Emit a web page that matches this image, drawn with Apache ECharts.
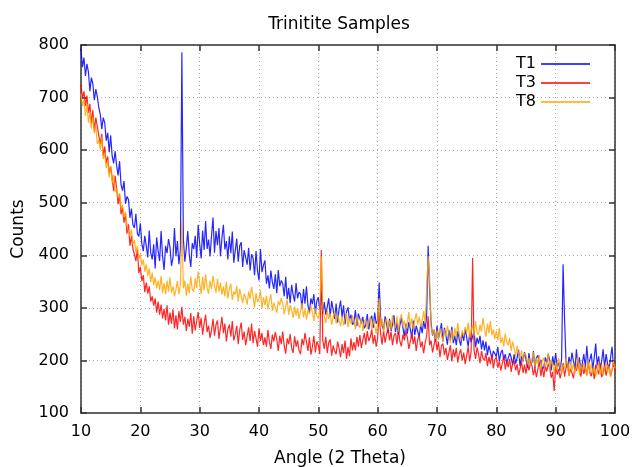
<!DOCTYPE html>
<html><head><meta charset="utf-8">
<script src="https://cdn.jsdelivr.net/npm/echarts@6/dist/echarts.min.js"></script>
<style>html,body{margin:0;padding:0;background:#fff}#c{width:634px;height:467px}</style>
</head><body><div id="c"></div>
<script>
const titleText = 'Trinitite Samples';
const seriesNames = ['T1', 'T3', 'T8'];
const angleStart = 10, angleStep = 0.25;
const xTicks = [10, 20, 30, 40, 50, 60, 70, 80, 90, 100];
const yTicks = [100, 200, 300, 400, 500, 600, 700, 800];

const T1 = [
792,758,776,741, 764,749,712,738, 726,695,716,702, 681,668,640,662, 652,618,633,596,
628,589,575,598, 571,552,579,534, 523,541,498,512, 506,471,489,458, 452,479,441,436,
461,422,408,437, 418,396,447,405, 392,421,375,434, 408,389,446,398, 372,418,404,431,
415,380,395,452, 398,427,383,410, 786,432,388,414, 446,401,378,423, 412,437,395,458,
422,394,447,410, 465,412,430,398, 437,472,405,446, 419,452,398,433, 458,411,427,392,
436,404,445,386, 409,432,388,418, 425,378,410,396, 382,414,371,402, 395,362,408,370,
352,412,368,381, 390,346,362,337, 371,349,336,364, 328,372,341,352, 346,322,359,317,
338,309,344,325, 312,347,318,330, 326,299,336,308, 341,304,292,318, 307,326,289,314,
320,296,332,288, 311,287,302,318, 284,313,296,279, 308,272,298,314, 282,305,269,293,
301,276,287,268, 272,296,265,289, 292,270,283,261, 267,288,259,278, 285,262,291,270,
276,348,281,266, 259,284,270,252, 279,256,268,286, 254,272,249,267, 281,262,246,270,
251,273,260,242, 276,248,266,255, 244,268,252,275, 260,283,418,336, 271,247,258,236,
266,242,255,271, 236,262,248,230, 258,239,264,233, 247,229,256,240, 228,252,237,259,
244,226,251,235, 238,256,225,243, 232,247,221,238, 219,236,210,228, 225,204,218,213,
207,226,199,214, 220,201,212,195, 198,214,206,191, 212,194,205,220, 189,208,198,216,
203,186,214,192, 196,218,185,205, 210,190,201,183, 187,206,195,212, 200,181,208,190,
214,188,196,180, 203,383,279,195, 186,207,192,215, 198,183,221,190, 206,179,196,212,
185,228,192,201, 213,184,205,232, 190,208,181,199, 221,187,212,194, 183,205,226,188,
197
];

const T3 = [
725,698,712,684, 704,671,688,650, 676,636,662,645, 628,612,631,589, 607,575,588,556,
569,548,522,551, 528,497,516,478, 491,462,479,441, 459,418,437,412, 402,389,411,366,
378,351,362,330, 348,327,341,312, 322,304,318,291, 312,287,306,280, 298,276,305,268,
291,270,297,261, 286,259,294,273, 302,268,283,256, 279,264,290,251, 284,257,275,292,
262,281,249,270, 287,254,266,243, 258,279,247,268, 276,241,262,283, 252,270,236,259,
268,245,275,238, 249,266,231,258, 272,239,255,229, 246,263,237,270, 233,256,242,226,
261,237,252,229, 244,226,258,235, 222,249,236,254, 240,218,247,231, 255,228,213,242,
231,250,224,214, 246,226,238,219, 212,241,229,252, 235,218,244,211, 226,247,215,236,
229,212,410,238, 222,245,214,234, 240,209,228,218, 212,236,223,206, 231,214,238,203,
226,208,242,219, 235,219,245,226, 248,224,239,252, 230,256,237,244, 259,232,248,226,
243,292,251,230, 257,234,249,262, 238,255,229,247, 252,231,258,236, 227,249,238,255,
244,222,236,251, 231,246,218,240, 247,225,236,214, 233,246,284,229, 238,215,229,244,
219,236,206,228, 232,210,224,201, 215,229,198,221, 206,224,196,213, 221,200,215,193,
209,226,198,217, 395,219,203,225, 212,195,218,204, 200,214,189,207, 193,211,185,202,
206,186,199,181, 194,209,183,198, 187,203,178,195, 199,181,193,172, 184,198,176,192,
175,193,181,197, 190,172,186,168, 183,199,170,187, 168,189,179,194, 185,167,178,142,
191,173,184,166, 178,195,169,186, 193,171,184,176, 166,188,180,195, 182,169,191,174,
188,172,196,177, 170,185,165,192, 184,174,195,168, 176,193,171,186, 190,170,182,196,
178
];

const T8 = [
708,684,696,665, 688,652,673,641, 664,632,645,612, 620,601,626,583, 594,566,581,548,
569,537,553,521, 528,509,518,487, 496,472,483,455, 458,437,449,421, 429,406,418,394,
402,381,392,369, 383,361,375,349, 367,343,358,337, 352,334,361,328, 347,326,352,331,
358,329,341,322, 335,351,326,344, 466,337,352,323, 346,328,360,335, 331,356,338,369,
347,326,359,333, 364,338,327,352, 336,361,342,329, 355,331,348,325, 341,322,350,318,
336,346,315,331, 325,342,312,336, 338,309,327,319, 306,331,317,340, 322,301,328,311,
317,334,298,320, 305,323,297,314, 326,294,310,301, 291,313,305,319, 308,288,302,316,
287,305,296,281, 303,285,299,279, 294,309,282,298, 278,296,288,304, 292,275,299,284,
280,297,398,301, 284,271,295,279, 289,268,283,294, 270,288,276,265, 285,266,279,290,
263,281,270,286, 277,259,284,268, 262,281,256,274, 279,260,272,283, 258,276,266,251,
272,318,262,279, 254,273,281,259, 276,258,286,266, 262,284,255,279, 288,265,276,258,
271,292,263,280, 259,277,290,268, 283,264,275,294, 271,332,398,358, 265,248,259,241,
257,239,262,248, 236,259,245,266, 251,233,258,240, 262,244,271,250, 238,257,246,264,
252,272,243,258, 267,246,275,253, 249,268,255,281, 262,245,270,252, 275,248,259,241,
256,238,262,233, 244,226,251,235, 229,243,218,236, 222,207,228,213, 203,219,198,214,
210,193,205,189, 201,216,187,205, 193,210,184,199, 205,188,196,215, 182,201,192,176,
197,181,205,187, 175,192,186,203, 188,171,199,181, 194,176,189,208, 172,191,180,196,
185,170,200,178, 193,175,187,169, 180,198,173,190, 171,186,195,177, 189,168,182,199,
185
];

const colors = ['#0000ff', '#ff0000', '#ffa500'];
const seriesValues = [T1, T3, T8];
const toPairs = arr => arr.map((v, i) => [angleStart + i * angleStep, v]);

const font = 'DejaVu Sans';
const axisColor = '#333';
const gridLine = {show: true, lineStyle: {color: '#aaa', type: [1, 3], width: 1}};

const chart = echarts.init(document.getElementById('c'), null, {renderer: 'canvas'});
chart.setOption({
  animation: false,
  backgroundColor: '#fff',
  title: {
    text: titleText, left: 334, top: 11, textAlign: 'center',
    textStyle: {fontFamily: font, fontSize: 17, fontWeight: 'normal', color: '#000'}
  },
  legend: {
    orient: 'vertical', right: 39, top: 51, align: 'right', itemGap: 3,
    itemWidth: 49, itemHeight: 1.5, icon: 'rect',
    textStyle: {fontFamily: font, fontSize: 16, color: '#000'},
    data: seriesNames
  },
  grid: {left: 81, right: 19, top: 45, bottom: 54, containLabel: false, outerBoundsMode: 'none'},
  xAxis: [{
    type: 'value', min: xTicks[0], max: xTicks[xTicks.length - 1], interval: 10,
    name: 'Angle (2 Theta)', nameLocation: 'middle', nameGap: 37,
    nameTextStyle: {fontFamily: font, fontSize: 17, color: '#000', padding: [0, 16, 0, 0]},
    axisLine: {show: true, lineStyle: {color: axisColor, width: 1.5}},
    axisTick: {show: true, inside: true, length: 6, lineStyle: {color: axisColor, width: 1.5}},
    axisLabel: {fontFamily: font, fontSize: 16, color: '#000', margin: 11},
    splitLine: gridLine
  }, {
    type: 'value', position: 'top', min: xTicks[0], max: xTicks[xTicks.length - 1], interval: 10,
    axisLine: {show: true, lineStyle: {color: axisColor, width: 1.5}},
    axisTick: {show: true, inside: true, length: 6, lineStyle: {color: axisColor, width: 1.5}},
    axisLabel: {show: false}, splitLine: {show: false}
  }],
  yAxis: [{
    type: 'value', min: yTicks[0], max: yTicks[yTicks.length - 1], interval: 100,
    name: 'Counts', nameLocation: 'middle', nameGap: 54, nameRotate: 90,
    nameTextStyle: {fontFamily: font, fontSize: 17, color: '#000'},
    axisLine: {show: true, lineStyle: {color: axisColor, width: 1.5}},
    axisTick: {show: true, inside: true, length: 6, lineStyle: {color: axisColor, width: 1.5}},
    axisLabel: {fontFamily: font, fontSize: 16, color: '#000', margin: 12},
    splitLine: gridLine
  }, {
    type: 'value', position: 'right', min: yTicks[0], max: yTicks[yTicks.length - 1], interval: 100,
    axisLine: {show: true, lineStyle: {color: axisColor, width: 1.5}},
    axisTick: {show: true, inside: true, length: 6, lineStyle: {color: axisColor, width: 1.5}},
    axisLabel: {show: false}, splitLine: {show: false}
  }],
  series: seriesNames.map((n, k) => ({
    name: n, type: 'line', xAxisIndex: 0, yAxisIndex: 0,
    showSymbol: false, symbol: 'none', color: colors[k],
    lineStyle: {width: 1.2, color: colors[k], opacity: 0.85},
    data: toPairs(seriesValues[k])
  }))
});
</script>
</body></html>
